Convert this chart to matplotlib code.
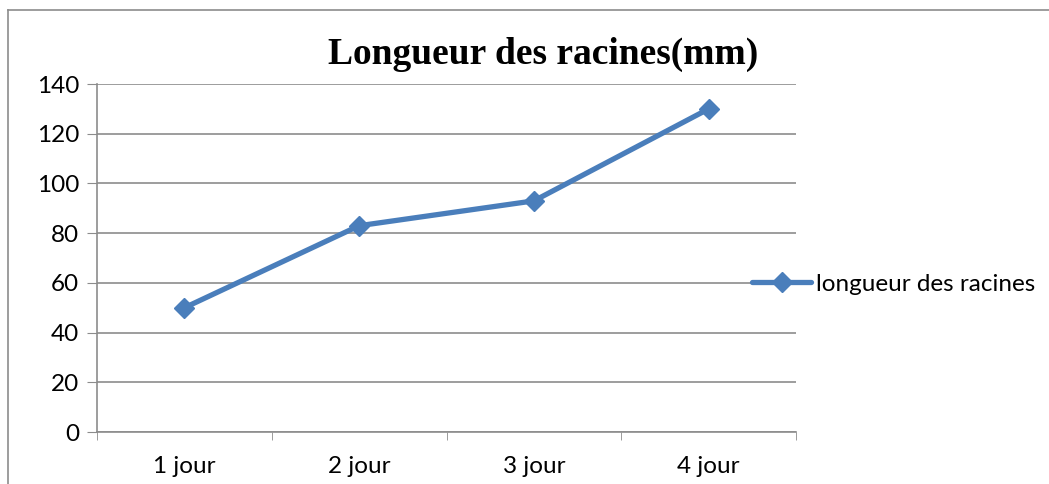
import matplotlib
matplotlib.use("Agg")
import numpy as np
from matplotlib import pyplot as plt
from matplotlib.lines import Line2D

jours = ["1 jour", "2 jour", "3 jour", "4 jour"]
longueur = [50, 83, 93, 130]
y_ticks = [0, 20, 40, 60, 80, 100, 120, 140]

bleu = "#4A7EBB"
gris = "#8C8C8C"

plt.rcParams['font.family'] = ['Lato', 'DejaVu Sans']

fig = plt.figure(figsize=(10.49, 4.84), dpi=100)
ax = fig.add_axes([0.0925, 0.1074, 0.6664, 0.719])

x = np.arange(len(jours))
ax.plot(x, longueur, color=bleu, lw=3.8, marker="D", ms=10, mfc=bleu, mec=bleu,
        solid_capstyle="round", zorder=3)

ax.set_xlim(-0.5, len(jours) - 0.5)
ax.set_ylim(0, 140)
ax.set_yticks(y_ticks)
ax.set_xticks(x)
ax.set_xticklabels(jours)
ax.set_xticks(np.arange(-0.5, len(jours), 1.0), minor=True)
ax.tick_params(axis="x", which="major", length=0, labelsize=17.5, pad=17)
ax.tick_params(axis="x", which="minor", length=6, color=gris, direction="out")
ax.tick_params(axis="y", length=7, color=gris, labelsize=17.5, pad=6)

ax.grid(axis="y", color=gris, lw=1.2)
ax.set_axisbelow(True)
for s in ["top", "right"]:
    ax.spines[s].set_visible(False)
for s in ["left", "bottom"]:
    ax.spines[s].set_color(gris)
    ax.spines[s].set_linewidth(1.2)

fig.text(0.518, 0.888, "Longueur des racines(mm)", family="Liberation Serif",
         fontweight="bold", fontsize=27, ha="center", va="center")

handle = Line2D([], [], color=bleu, lw=3.8, marker="D", ms=10, solid_capstyle="round")
fig.legend([handle], ["longueur des racines"], loc="center left",
           bbox_to_anchor=(0.708, 0.413), frameon=False, fontsize=17.5,
           handlelength=2.4, handletextpad=0.2, borderaxespad=0)

# cadre du graphique
fig.add_artist(Line2D([0.0076, 0.0076], [0, 0.979], color=gris, lw=1.2))
fig.add_artist(Line2D([0.0076, 1.0], [0.979, 0.979], color=gris, lw=1.2))

fig.savefig("out.png", dpi=100)
